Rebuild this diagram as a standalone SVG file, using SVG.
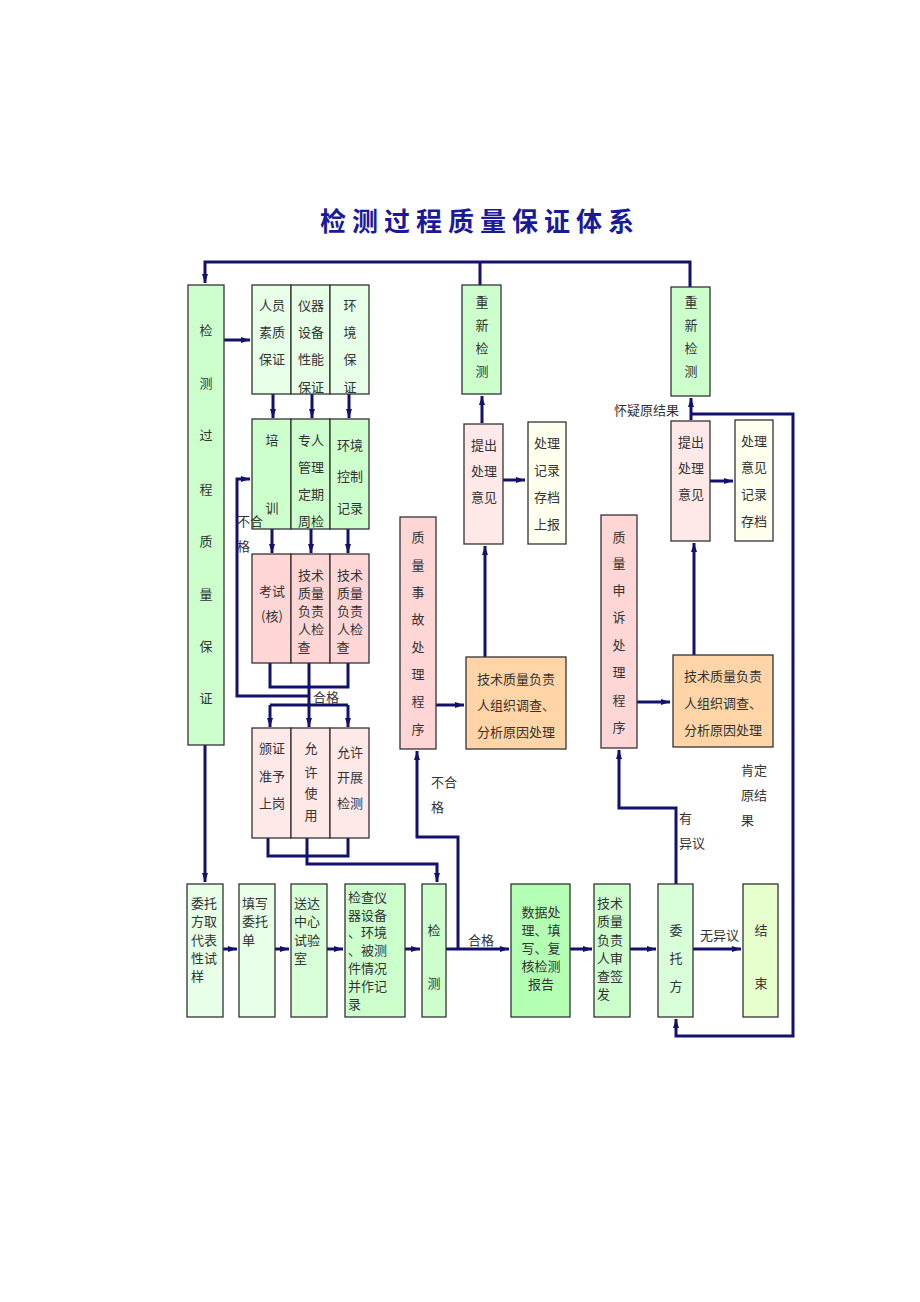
<svg xmlns="http://www.w3.org/2000/svg" width="920" height="1302" viewBox="0 0 920 1302">
<style>
.b{stroke:#333;stroke-width:1.3}
.t{font-family:"Noto Sans CJK SC","Liberation Sans",sans-serif;font-size:13px;fill:#333;text-anchor:middle}
.tl{font-family:"Noto Sans CJK SC","Liberation Sans",sans-serif;font-size:13px;fill:#333}
.c{fill:none;stroke:#12126e;stroke-width:3}
.a{marker-end:url(#ar)}
</style>
<defs>
<marker id="ar" markerWidth="10" markerHeight="8" refX="9" refY="4" orient="auto" markerUnits="userSpaceOnUse">
<path d="M0,1 L9,4 L0,7 z" fill="#12126e"/>
</marker>
</defs>
<rect width="920" height="1302" fill="#fff"/>
<text x="480" y="231" style="font-family:'Noto Sans CJK SC',sans-serif;font-size:26px;font-weight:bold;fill:#1a1a99;letter-spacing:6px" text-anchor="middle">检测过程质量保证体系</text>

<g id="connectors">
<path class="c a" d="M690,287 V262 H205 V283"/>
<path class="c" d="M480,262 V285"/>
<path class="c a" d="M224,340 H250"/>
<path class="c a" d="M273,394 V418"/>
<path class="c a" d="M312,394 V418"/>
<path class="c a" d="M349,394 V418"/>
<path class="c a" d="M272,529 V553"/>
<path class="c a" d="M311,529 V553"/>
<path class="c a" d="M348,529 V553"/>
<path class="c" d="M270,663 V687 H348 V663"/>
<path class="c a" d="M309,663 V727"/>
<path class="c" d="M270,705 H348"/>
<path class="c a" d="M270,705 V727"/>
<path class="c a" d="M348,705 V727"/>
<path class="c a" d="M309,696 H237 V479 H250"/>
<path class="c" d="M268,838 V856 H348 V838"/>
<path class="c a" d="M307,838 V864 H437 V882"/>
<path class="c a" d="M205,745 V882"/>
<path class="c a" d="M223,949 H237"/>
<path class="c a" d="M275,949 H289"/>
<path class="c a" d="M327,949 H343"/>
<path class="c a" d="M405,949 H420"/>
<path class="c a" d="M446,949 H509"/>
<path class="c a" d="M570,949 H592"/>
<path class="c a" d="M630,949 H656"/>
<path class="c a" d="M693,949 H741"/>
<path class="c a" d="M458,949 V837 H417 V751"/>
<path class="c a" d="M676,884 V808 H619 V750"/>
<path class="c a" d="M691,414 H793 V1036 H676 V1019"/>
<path class="c a" d="M691,420 V398"/>
<path class="c a" d="M436,705 H464"/>
<path class="c a" d="M485,657 V546"/>
<path class="c a" d="M503,480 H525"/>
<path class="c a" d="M482,423 V396"/>
<path class="c a" d="M637,702 H670"/>
<path class="c a" d="M694,655 V543"/>
<path class="c a" d="M710,481 H733"/>
</g>

<g id="n_main">
<rect class="b" x="188" y="285" width="36" height="460" fill="#ccffcc"/>
<text class="t" x="206" y="335">检</text>
<text class="t" x="206" y="388">测</text>
<text class="t" x="206" y="440">过</text>
<text class="t" x="206" y="494">程</text>
<text class="t" x="206" y="546">质</text>
<text class="t" x="206" y="599">量</text>
<text class="t" x="206" y="651">保</text>
<text class="t" x="206" y="703">证</text>
</g>

<g id="n_row1">
<rect class="b" x="252" y="285" width="39" height="109" fill="#e6ffe6"/>
<rect class="b" x="291" y="285" width="39" height="109" fill="#e6ffe6"/>
<rect class="b" x="330" y="285" width="39" height="109" fill="#e6ffe6"/>
<text class="t" x="272" y="310">人员</text>
<text class="t" x="272" y="337">素质</text>
<text class="t" x="272" y="364">保证</text>
<text class="t" x="311" y="310">仪器</text>
<text class="t" x="311" y="337">设备</text>
<text class="t" x="311" y="364">性能</text>
<text class="t" x="311" y="392">保证</text>
<text class="t" x="350" y="310">环</text>
<text class="t" x="350" y="337">境</text>
<text class="t" x="350" y="364">保</text>
<text class="t" x="350" y="392">证</text>
</g>

<g id="n_row2">
<rect class="b" x="252" y="419" width="39" height="110" fill="#ccffcc"/>
<rect class="b" x="291" y="419" width="39" height="110" fill="#ccffcc"/>
<rect class="b" x="330" y="419" width="39" height="110" fill="#ccffcc"/>
<text class="t" x="272" y="445">培</text>
<text class="t" x="272" y="513">训</text>
<text class="t" x="311" y="445">专人</text>
<text class="t" x="311" y="472">管理</text>
<text class="t" x="311" y="499">定期</text>
<text class="t" x="311" y="526">周检</text>
<text class="t" x="350" y="450">环境</text>
<text class="t" x="350" y="481">控制</text>
<text class="t" x="350" y="513">记录</text>
</g>

<g id="n_row3">
<rect class="b" x="252" y="554" width="39" height="109" fill="#ffd6d6"/>
<rect class="b" x="291" y="554" width="39" height="109" fill="#ffd6d6"/>
<rect class="b" x="330" y="554" width="39" height="109" fill="#ffd6d6"/>
<text class="t" x="272" y="596">考试</text>
<text class="t" x="272" y="621">(核)</text>
<text class="t" x="311" y="580">技术</text>
<text class="t" x="311" y="598">质量</text>
<text class="t" x="311" y="616">负责</text>
<text class="t" x="311" y="634">人检</text>
<text class="t" x="304" y="652">查</text>
<text class="t" x="350" y="580">技术</text>
<text class="t" x="350" y="598">质量</text>
<text class="t" x="350" y="616">负责</text>
<text class="t" x="350" y="634">人检</text>
<text class="t" x="343" y="652">查</text>
</g>

<g id="n_row4">
<rect class="b" x="252" y="728" width="39" height="110" fill="#ffe8e8"/>
<rect class="b" x="291" y="728" width="39" height="110" fill="#ffe8e8"/>
<rect class="b" x="330" y="728" width="39" height="110" fill="#ffe8e8"/>
<text class="t" x="272" y="753">颁证</text>
<text class="t" x="272" y="781">准予</text>
<text class="t" x="272" y="808">上岗</text>
<text class="t" x="311" y="753">允</text>
<text class="t" x="311" y="777">许</text>
<text class="t" x="311" y="798">使</text>
<text class="t" x="311" y="820">用</text>
<text class="t" x="350" y="757">允许</text>
<text class="t" x="350" y="782">开展</text>
<text class="t" x="350" y="808">检测</text>
</g>

<g id="n_retest1">
<rect class="b" x="462" y="285" width="39" height="109" fill="#ccffcc"/>
<text class="t" x="482" y="307">重</text>
<text class="t" x="482" y="330">新</text>
<text class="t" x="482" y="353">检</text>
<text class="t" x="482" y="376">测</text>
</g>

<g id="n_opinion1">
<rect class="b" x="464" y="424" width="39" height="120" fill="#ffe8e8"/>
<text class="t" x="484" y="450">提出</text>
<text class="t" x="484" y="476">处理</text>
<text class="t" x="484" y="502">意见</text>
</g>

<g id="n_record1">
<rect class="b" x="528" y="422" width="38" height="122" fill="#ffffee"/>
<text class="t" x="547" y="448">处理</text>
<text class="t" x="547" y="475">记录</text>
<text class="t" x="547" y="502">存档</text>
<text class="t" x="547" y="529">上报</text>
</g>

<g id="n_accident">
<rect class="b" x="400" y="517" width="36" height="232" fill="#ffd6d6"/>
<text class="t" x="418" y="542">质</text>
<text class="t" x="418" y="570">量</text>
<text class="t" x="418" y="597">事</text>
<text class="t" x="418" y="624">故</text>
<text class="t" x="418" y="652">处</text>
<text class="t" x="418" y="679">理</text>
<text class="t" x="418" y="706">程</text>
<text class="t" x="418" y="734">序</text>
</g>

<g id="n_invest1">
<rect class="b" x="466" y="657" width="100" height="92" fill="#ffd5a8"/>
<text class="t" x="516" y="684">技术质量负责</text>
<text class="t" x="516" y="710">人组织调查、</text>
<text class="t" x="516" y="737">分析原因处理</text>
</g>

<g id="n_retest2">
<rect class="b" x="671" y="287" width="39" height="109" fill="#ccffcc"/>
<text class="t" x="691" y="307">重</text>
<text class="t" x="691" y="330">新</text>
<text class="t" x="691" y="353">检</text>
<text class="t" x="691" y="376">测</text>
</g>

<g id="n_opinion2">
<rect class="b" x="671" y="421" width="39" height="120" fill="#ffe8e8"/>
<text class="t" x="691" y="447">提出</text>
<text class="t" x="691" y="473">处理</text>
<text class="t" x="691" y="499">意见</text>
</g>

<g id="n_record2">
<rect class="b" x="735" y="420" width="38" height="121" fill="#ffffee"/>
<text class="t" x="754" y="446">处理</text>
<text class="t" x="754" y="472">意见</text>
<text class="t" x="754" y="499">记录</text>
<text class="t" x="754" y="526">存档</text>
</g>

<g id="n_appeal">
<rect class="b" x="601" y="515" width="36" height="233" fill="#ffd6d6"/>
<text class="t" x="619" y="542">质</text>
<text class="t" x="619" y="568">量</text>
<text class="t" x="619" y="595">申</text>
<text class="t" x="619" y="622">诉</text>
<text class="t" x="619" y="650">处</text>
<text class="t" x="619" y="677">理</text>
<text class="t" x="619" y="705">程</text>
<text class="t" x="619" y="732">序</text>
</g>

<g id="n_invest2">
<rect class="b" x="673" y="655" width="100" height="92" fill="#ffd5a8"/>
<text class="t" x="723" y="681">技术质量负责</text>
<text class="t" x="723" y="708">人组织调查、</text>
<text class="t" x="723" y="735">分析原因处理</text>
</g>

<g id="n_sample">
<rect class="b" x="187" y="884" width="36" height="133" fill="#e6ffe6"/>
<text class="tl" x="191" y="908">委托</text>
<text class="tl" x="191" y="926">方取</text>
<text class="tl" x="191" y="945">代表</text>
<text class="tl" x="191" y="963">性试</text>
<text class="tl" x="191" y="981">样</text>
</g>

<g id="n_form">
<rect class="b" x="239" y="884" width="36" height="133" fill="#e6ffe6"/>
<text class="tl" x="242" y="908">填写</text>
<text class="tl" x="242" y="926">委托</text>
<text class="tl" x="242" y="945">单</text>
</g>

<g id="n_lab">
<rect class="b" x="291" y="884" width="36" height="133" fill="#d9ffd9"/>
<text class="tl" x="294" y="908">送达</text>
<text class="tl" x="294" y="926">中心</text>
<text class="tl" x="294" y="945">试验</text>
<text class="tl" x="294" y="963">室</text>
</g>

<g id="n_check">
<rect class="b" x="345" y="884" width="60" height="133" fill="#ccffcc"/>
<text class="tl" x="348" y="902">检查仪</text>
<text class="tl" x="348" y="920">器设备</text>
<text class="tl" x="348" y="937">、环境</text>
<text class="tl" x="348" y="955">、被测</text>
<text class="tl" x="348" y="973">件情况</text>
<text class="tl" x="348" y="991">并作记</text>
<text class="tl" x="348" y="1009">录</text>
</g>

<g id="n_test">
<rect class="b" x="422" y="884" width="24" height="133" fill="#ccffcc"/>
<text class="t" x="434" y="935">检</text>
<text class="t" x="434" y="988">测</text>
</g>

<g id="n_report">
<rect class="b" x="511" y="884" width="59" height="133" fill="#b3ffb3"/>
<text class="t" x="541" y="917">数据处</text>
<text class="t" x="541" y="935">理、填</text>
<text class="t" x="541" y="953">写、复</text>
<text class="t" x="541" y="971">核检测</text>
<text class="t" x="541" y="989">报告</text>
</g>

<g id="n_sign">
<rect class="b" x="594" y="884" width="36" height="133" fill="#ccffcc"/>
<text class="tl" x="597" y="908">技术</text>
<text class="tl" x="597" y="926">质量</text>
<text class="tl" x="597" y="945">负责</text>
<text class="tl" x="597" y="963">人审</text>
<text class="tl" x="597" y="981">查签</text>
<text class="tl" x="597" y="999">发</text>
</g>

<g id="n_client">
<rect class="b" x="658" y="884" width="35" height="133" fill="#d9ffd9"/>
<text class="t" x="676" y="935">委</text>
<text class="t" x="676" y="963">托</text>
<text class="t" x="676" y="991">方</text>
</g>

<g id="n_end">
<rect class="b" x="743" y="884" width="35" height="133" fill="#e6ffcc"/>
<text class="t" x="761" y="935">结</text>
<text class="t" x="761" y="988">束</text>
</g>

<g id="labels">
<text class="tl" x="237" y="526">不合</text>
<text class="tl" x="237" y="551">格</text>
<text class="tl" x="313" y="702">合格</text>
<text class="tl" x="431" y="787">不合</text>
<text class="tl" x="431" y="812">格</text>
<text class="tl" x="468" y="945">合格</text>
<text class="tl" x="700" y="940">无异议</text>
<text class="tl" x="679" y="823">有</text>
<text class="tl" x="679" y="848">异议</text>
<text class="tl" x="741" y="775">肯定</text>
<text class="tl" x="741" y="800">原结</text>
<text class="tl" x="741" y="825">果</text>
<text class="tl" x="614" y="415">怀疑原结果</text>
</g>
</svg>
